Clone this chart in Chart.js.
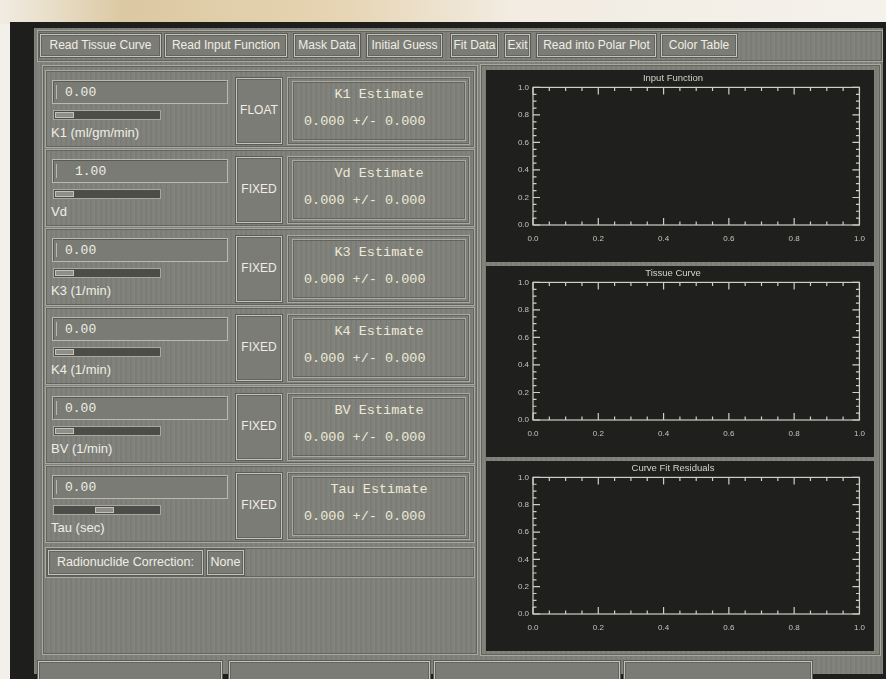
<!DOCTYPE html>
<html>
<head>
<meta charset="utf-8">
<script src="https://cdn.jsdelivr.net/npm/chart.js@4.4.1/dist/chart.umd.min.js"></script>
<style>
  body { margin:0; width:886px; height:679px; overflow:hidden; position:relative;
         background:#f3f0ea; font-family:"Liberation Sans", Arial, sans-serif; }
  .abs { position:absolute; box-sizing:border-box; }
  #scan { left:0; top:0; width:886px; height:24px;
          background:linear-gradient(90deg,#f1ece2 0%,#dcc9a3 14%,#e6d4b2 38%,#f2ece2 58%,#f5f2ec 100%); }
  #frame { left:10px; top:22px; width:876px; height:657px; background:#1e1e1c; }
  #win { left:34px; top:28px; width:849px; height:646px;
         background:#80807a;
         background-image:repeating-linear-gradient(90deg, rgba(255,255,255,0.03) 0 1px, rgba(0,0,0,0.03) 1px 3px, rgba(255,255,255,0.02) 3px 5px); }
  .btn { border:1px solid #c4c4ba; box-shadow:inset 0 0 0 1px #64645e, 0 0 0 1px #5c5c56;
         background:#7c7c76; color:#efeee4; font-size:12px; text-align:center; white-space:nowrap; overflow:hidden; }
  .groove { border:1px solid #a9a9a0; box-shadow:inset 0 0 0 1px #64645e; }
  .field { border:1px solid #b9b9b0; box-shadow:inset 1px 1px 0 #5a5a54; background:#7b7b75; }
  .slider { background:#4c4c48; border:1px solid #a8a89f; }
  .knob { background:#8e8e87; border:1px solid #c2c2b8; }
  .lbl { color:#efeee4; font-size:13px; white-space:nowrap; }
  .mono { font-family:"Liberation Mono","DejaVu Sans Mono",monospace; color:#ecead6; font-size:13.5px; white-space:nowrap; }
  .plot { background:#1f201d; }
  canvas { position:absolute; }
</style>
</head>
<body>
<div class="abs" id="scan"></div>
<div class="abs" id="frame"></div>
<div class="abs" id="win"></div>
<div id="gui"></div>
<div class="abs groove" style="left:480px;top:64px;width:401px;height:592px;"></div>
<div class="abs plot" style="left:486px;top:70px;width:388px;height:192px;"><canvas id="c1" width="388" height="192"></canvas></div>
<div class="abs plot" style="left:486px;top:266px;width:388px;height:191px;"><canvas id="c2" width="388" height="191"></canvas></div>
<div class="abs plot" style="left:486px;top:461px;width:388px;height:190px;"><canvas id="c3" width="388" height="190"></canvas></div>
<script>
// plot data (all three plots are empty in the reference)
const inputFunction = [];
const tissueCurve = [];
const fitResiduals = [];
const plotTitles = ["Input Function", "Tissue Curve", "Curve Fit Residuals"];
const tickValues = [0, 0.2, 0.4, 0.6, 0.8, 1.0];
const minorTicks = [0, 0.05, 0.1, 0.15, 0.2, 0.25, 0.3, 0.35, 0.4, 0.45, 0.5,
                    0.55, 0.6, 0.65, 0.7, 0.75, 0.8, 0.85, 0.9, 0.95, 1.0];

// widget text
const toolButtons = ["Read Tissue Curve", "Read Input Function", "Mask Data", "Initial Guess",
                     "Fit Data", "Exit", "Read into Polar Plot", "Color Table"];
const toolX = [40, 165, 294, 367, 451, 505, 537, 661];
const toolW = [121, 122, 66, 75, 47, 25, 119, 76];
const paramValues = ["0.00", "1.00", "0.00", "0.00", "0.00", "0.00"];
const paramLabels = ["K1 (ml/gm/min)", "Vd", "K3 (1/min)", "K4 (1/min)", "BV (1/min)", "Tau (sec)"];
const paramModes = ["FLOAT", "FIXED", "FIXED", "FIXED", "FIXED", "FIXED"];
const paramNames = ["K1", "Vd", "K3", "K4", "BV", "Tau"];
const estimates = ["0.000 +/- 0.000", "0.000 +/- 0.000", "0.000 +/- 0.000",
                   "0.000 +/- 0.000", "0.000 +/- 0.000", "0.000 +/- 0.000"];

function box(cls, x, y, w, h, html, extra) {
  return '<div class="abs ' + cls + '" style="left:' + x + 'px;top:' + y + 'px;width:' + w +
         'px;height:' + h + 'px;' + (extra || '') + '">' + (html || '') + '</div>';
}

let g = '';
// toolbar
g += box('groove', 37, 30, 846, 32);
toolButtons.forEach((t, i) => {
  g += box('btn', toolX[i], 34, toolW[i], 23, t, 'line-height:21px;');
});
// left panel
g += box('groove', 42, 65, 436, 590);
paramValues.forEach((v, i) => {
  const top = 70 + i * 79;
  g += box('groove', 45, top, 430, 78);
  g += box('field', 52, top + 10, 176, 24,
    '<span style="position:absolute;left:3px;top:4px;width:1px;height:14px;background:#b8b8ae"></span>' +
    '<span class="lbl" style="position:absolute;left:' + (v === "1.00" ? 22 : 12) + 'px;top:4px;font-family:Liberation Mono,monospace;font-size:13px">' + v + '</span>');
  g += box('slider', 53, top + 40, 108, 10);
  g += box('knob', i === 5 ? 95 : 55, top + 42, 19, 6);
  g += box('lbl', 51, top + 55, 150, 17, paramLabels[i]);
  g += box('btn', 236, top + 8, 46, 66, paramModes[i], 'line-height:62px;');
  g += box('groove', 287, top + 7, 183, 68);
  g += box('groove', 292, top + 11, 174, 60,
    '<div class="mono" style="position:absolute;left:0;width:100%;top:5px;text-align:center">' + paramNames[i] + ' Estimate</div>' +
    '<div class="mono" style="position:absolute;left:11px;top:32px">' + estimates[i] + '</div>');
});
g += box('groove', 45, 547, 430, 31);
g += box('btn', 48, 550, 155, 25, 'Radionuclide Correction:', 'line-height:23px;font-size:12.5px;');
g += box('btn', 207, 550, 37, 25, 'None', 'line-height:23px;font-size:12.5px;');
// bottom buttons (cut off by the photo)
[[38, 184], [229, 201], [434, 186], [624, 188]].forEach(b => {
  g += box('btn', b[0], 661, b[1], 20);
});
document.getElementById('gui').innerHTML = g;

// IDL-style box with inward major/minor ticks, placed through the chart scales
const idlAxes = {
  id: 'idlAxes',
  afterDraw(chart) {
    const {ctx, chartArea: a, scales: {x, y}} = chart;
    ctx.save();
    ctx.strokeStyle = '#cfcfc6';
    ctx.lineWidth = 1.2;
    ctx.strokeRect(a.left, a.top, a.right - a.left, a.bottom - a.top);
    ctx.beginPath();
    minorTicks.forEach((v, i) => {
      const len = i % 4 === 0 ? 7 : 3.5;
      const px = x.getPixelForValue(v), py = y.getPixelForValue(v);
      ctx.moveTo(px, a.bottom); ctx.lineTo(px, a.bottom - len);
      ctx.moveTo(px, a.top); ctx.lineTo(px, a.top + len);
      ctx.moveTo(a.left, py); ctx.lineTo(a.left + len, py);
      ctx.moveTo(a.right, py); ctx.lineTo(a.right - len, py);
    });
    ctx.stroke();
    ctx.restore();
  }
};

function makePlot(id, title, data, topPad) {
  const tickFont = {family: 'Liberation Sans', size: 8};
  return new Chart(document.getElementById(id).getContext('2d'), {
    type: 'scatter',
    data: { datasets: [{ label: title, data: data, borderColor: '#e0e0d8', showLine: true, pointRadius: 0 }] },
    options: {
      responsive: false,
      animation: false,
      layout: { padding: { left: 0, right: 14, top: 0, bottom: 0 } },
      plugins: {
        legend: { display: false },
        tooltip: { enabled: false },
        title: { display: true, text: title, color: '#d2d2ca',
                 font: {family: 'Liberation Sans', size: 9.5, weight: 'normal'},
                 padding: { top: topPad, bottom: 3 } }
      },
      scales: {
        x: {
          type: 'linear', min: 0, max: 1,
          grid: { display: false, drawTicks: false }, border: { display: false },
          afterBuildTicks: s => { s.ticks = tickValues.map(v => ({value: v})); },
          afterFit: s => { s.height = 37; },
          ticks: { color: '#c4c4bc', font: tickFont, padding: 9, maxRotation: 0,
                   callback: v => v.toFixed(1) }
        },
        y: {
          min: 0, max: 1,
          grid: { display: false, drawTicks: false }, border: { display: false },
          afterBuildTicks: s => { s.ticks = tickValues.map(v => ({value: v})); },
          afterFit: s => { s.width = 47; },
          ticks: { color: '#c4c4bc', font: tickFont, padding: 4,
                   callback: v => v.toFixed(1) }
        }
      }
    },
    plugins: [idlAxes]
  });
}

makePlot('c1', plotTitles[0], inputFunction, 3);
makePlot('c2', plotTitles[1], tissueCurve, 2);
makePlot('c3', plotTitles[2], fitResiduals, 2);
</script>
</body>
</html>
